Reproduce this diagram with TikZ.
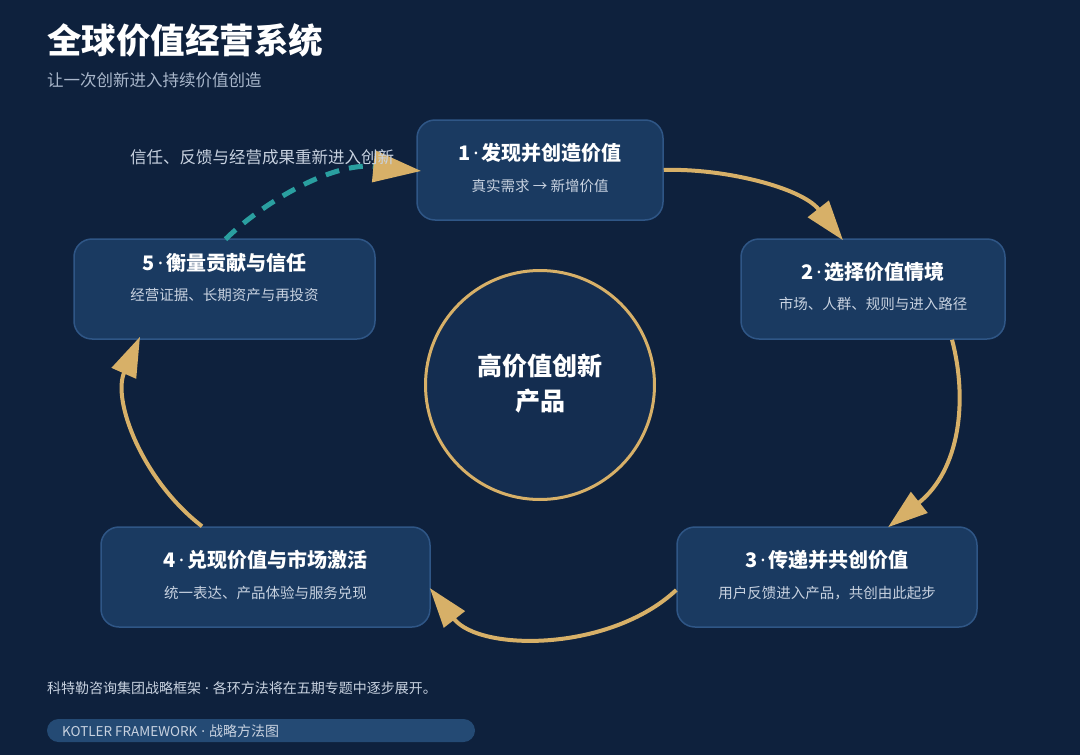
\documentclass[tikz,border=0pt]{standalone}
\usepackage{fontspec}
\setmainfont{Noto Sans CJK SC}
\newfontfamily\latinf{Noto Sans}
\usetikzlibrary{arrows.meta,calc}
\definecolor{bg}{HTML}{0E213D}
\definecolor{boxfill}{HTML}{1A3A61}
\definecolor{boxline}{HTML}{2F5686}
\definecolor{circfill}{HTML}{142D50}
\definecolor{gold}{HTML}{D7B068}
\definecolor{teal}{HTML}{2A9FA0}
\definecolor{subgray}{HTML}{A9B7CB}
\definecolor{boxsub}{HTML}{C8D2E0}
\definecolor{pillfill}{HTML}{244A74}
\newcommand{\fsz}[1]{\fontsize{#1}{#1}\selectfont}
\newcommand{\num}[1]{#1{\latinf\hspace{3pt}·\hspace{3pt}}}
\newcommand{\mdot}{{\latinf\hspace{4pt}·\hspace{4pt}}}
\tikzset{
  stagebox/.style={draw=boxline, line width=1.5pt, fill=boxfill, rounded corners=18pt, inner sep=0pt},
  boxtitle/.style={text=white, font=\fsz{20}\bfseries, inner sep=0pt},
  boxsubt/.style={text=boxsub, font=\fsz{14.5}, inner sep=0pt},
  goldarrow/.style={draw=gold, line width=4pt, -{Triangle[length=40pt,width=26pt]}},
  tealarrow/.style={draw=teal, line width=5pt, dash pattern=on 14pt off 10pt, -{Triangle[length=48pt,width=31pt,color=gold,fill=gold]}}
}
\begin{document}
\begin{tikzpicture}[x=1pt,y=-1pt]
\useasboundingbox (0,0) rectangle (1080,755);
\fill[bg] (0,0) rectangle (1080,755);

% heading
\node[anchor=west, inner sep=0pt, text=white, font=\fsz{34.5}\bfseries] (title) at (47,40) {全球价值经营系统};
\node[anchor=west, inner sep=0pt, text=subgray, font=\fsz{16.5}] (subtitle) at (47,80) {让一次创新进入持续价值创造};

% centre
\node[circle, draw=gold, line width=3pt, fill=circfill, minimum size=229pt, inner sep=0pt] (core) at (540,385) {};
\node[align=center, text=white, font=\fontsize{25}{35}\selectfont\bfseries, inner sep=0pt] (coretext) at (540,384) {高价值创新\\产品};

% stage boxes
\node[stagebox, minimum width=246pt, minimum height=100pt] (b1) at (540,170) {};
\node[stagebox, minimum width=264pt, minimum height=100pt] (b2) at (873,289) {};
\node[stagebox, minimum width=300pt, minimum height=100pt] (b3) at (827,577) {};
\node[stagebox, minimum width=329pt, minimum height=100pt] (b4) at (265.5,577) {};
\node[stagebox, minimum width=301pt, minimum height=100pt] (b5) at (224.5,289) {};

\node[boxtitle] (t1) at (540,153) {\num{1}发现并创造价值};
\node[boxsubt] (s1) at (540,186) {真实需求 → 新增价值};
\node[boxtitle] (t2) at (873,272) {\num{2}选择价值情境};
\node[boxsubt] (s2) at (873,304) {市场、人群、规则与进入路径};
\node[boxtitle] (t3) at (827,560) {\num{3}传递并共创价值};
\node[boxsubt] (s3) at (827,593) {用户反馈进入产品，共创由此起步};
\node[boxtitle] (t4) at (265.5,560) {\num{4}兑现价值与市场激活};
\node[boxsubt] (s4) at (265.5,593) {统一表达、产品体验与服务兑现};
\node[boxtitle] (t5) at (224.5,263) {\num{5}衡量贡献与信任};
\node[boxsubt] (s5) at (224.5,295) {经营证据、长期资产与再投资};

% connectors
\draw[goldarrow] (b1.east) .. controls (722,168) and (801,187) .. ($(b2.north)+(-30,2)$);
\draw[goldarrow] ($(b2.south)+(79,0)$) .. controls (968,400) and (960,470) .. ($(b3.north)+(61,1)$);
\draw[goldarrow] ($(b3.west)+(0,13)$) .. controls (610,652) and (480,652) .. ($(b4.east)+(-1,11)$);
\draw[goldarrow] ($(b4.north)+(-63.5,0)$) .. controls (142,480) and (112,400) .. ($(b5.south)+(-84.5,-3)$);
\draw[tealarrow] ($(b5.north)+(1,1)$) .. controls (260,205) and (330,162) .. ($(b1.west)+(5,1)$);

\node[text=boxsub, font=\fsz{16.5}, inner sep=0pt] (note) at (262,157) {信任、反馈与经营成果重新进入创新};

% footer
\node[anchor=west, inner sep=0pt, text=boxsub, font=\fsz{14}] (foot) at (47,688) {科特勒咨询集团战略框架\mdot 各环方法将在五期专题中逐步展开。};
\node[fill=pillfill, rounded corners=11.5pt, minimum width=428pt, minimum height=23pt, inner sep=0pt] (pill) at (261,730.5) {};
\node[anchor=west, inner sep=0pt, text=boxsub, font=\fsz{14}] (pilltext) at (62,731) {{\fsz{13.5}KOTLER FRAMEWORK}\mdot 战略方法图};
\end{tikzpicture}
\end{document}
